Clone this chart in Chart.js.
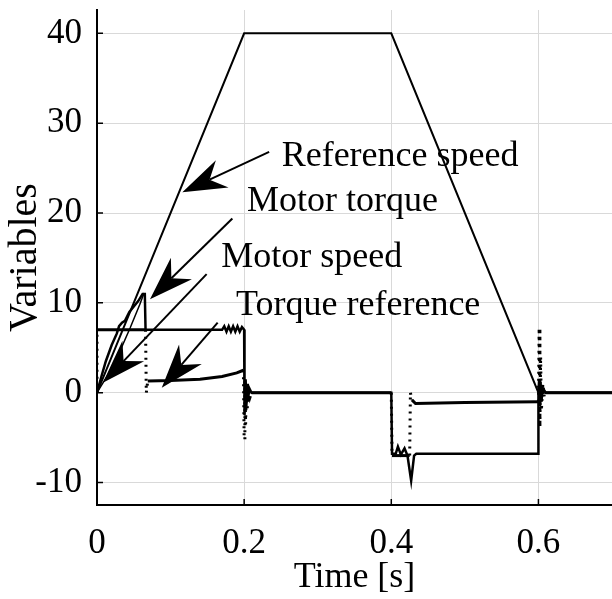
<!DOCTYPE html>
<html>
<head>
<meta charset="utf-8">
<script src="https://cdn.jsdelivr.net/npm/chart.js@4.4.1/dist/chart.umd.min.js"></script>
<style>
  html, body { margin: 0; background: #fff; }
  #wrap { width: 612px; height: 599px; }
</style>
</head>
<body>
<div id="wrap"><canvas id="chart"></canvas></div>
<script>
// axis ticks
const xTicks = [0, 0.2, 0.4, 0.6];
const yTicks = [-10, 0, 10, 20, 30, 40];

// reference speed
const refT = [0, 0.2, 0.4, 0.6, 0.7];
const refV = [0, 40, 40, 0, 0];

// motor speed (smooth rise at start)
const speedT = [0, 0.015, 0.03, 0.045, 0.058, 0.064];
const speedV = [0, 2.0, 4.4, 7.2, 9.8, 11.1];

// motor torque (solid)
const torqueT = [0, 0.006, 0.012, 0.02, 0.027, 0.03, 0.034, 0.038, 0.044, 0.05, 0.056, 0.062, 0.065, 0.066,
  0.17, 0.173, 0.176, 0.179, 0.182, 0.185, 0.188, 0.191, 0.194, 0.197, 0.2, 0.2, 0.2005, 0.201, 0.202, 0.203,
  0.204, 0.205, 0.207, 0.21, 0.4, 0.401, 0.406, 0.409, 0.413, 0.418, 0.422, 0.427, 0.431, 0.434, 0.6, 0.6,
  0.601, 0.602, 0.603, 0.604, 0.606, 0.61, 0.7];
const torqueV = [0, 1.8, 3.5, 5.3, 6.6, 7.4, 7.8, 8.0, 9.0, 9.6, 10.2, 11, 11, 7,
  7, 7.4, 6.8, 7.4, 6.8, 7.4, 6.8, 7.4, 6.8, 7.3, 7, 0, 2, -2.5, 1.5, -1.5,
  1, -1, 0.5, 0, 0, -6.8, -6.8, -6, -6.9, -6.2, -7, -9.8, -7, -6.8, -6.8, 0,
  1.5, -1.5, 1, -1, 0.5, 0, 0];

// torque reference (sampled, steep jumps look dotted)
const trefT = [0, 0, 0.066, 0.067, 0.069, 0.1, 0.14, 0.17, 0.19, 0.199, 0.2, 0.201, 0.202, 0.203, 0.204,
  0.206, 0.208, 0.21, 0.4, 0.401, 0.425, 0.426, 0.428, 0.433, 0.5, 0.6, 0.601, 0.602, 0.603, 0.604,
  0.606, 0.608, 0.61, 0.7];
const trefV = [0, 7, 7, 0, 1.3, 1.35, 1.5, 1.8, 2.2, 2.5, -5.2, 1.5, -3.5, 1, -2,
  0.5, -0.5, 0, 0, -7, -7, 0, -0.8, -1.2, -1.1, -1.0, 7.2, -3.8, 4, -2,
  1, -0.5, 0, 0];

// annotation labels and arrows (tail -> tip), in data units
const noteText = ["Reference speed", "Motor torque", "Motor speed", "Torque reference"];
const noteT = [0.251, 0.204, 0.169, 0.189];
const noteV = [25.25, 20.2, 13.97, 8.7];
const arrowTail = [[0.234, 26.8], [0.184, 19.4], [0.149, 13.2], [0.164, 7.8]];
const arrowTip = [[0.116, 22.3], [0.072, 10.4], [0.008, 1.1], [0.088, 0.56]];

const serif = "'Liberation Serif', 'Times New Roman', serif";

function pts(t, v) {
  return t.map((x, i) => ({ x: x, y: v[i] }));
}

// steep segments of the sampled signal show as dots
function steepDash(ctx) {
  const dx = Math.abs(ctx.p1.x - ctx.p0.x);
  const dy = Math.abs(ctx.p1.y - ctx.p0.y);
  return dy > dx * 2 ? [2, 5] : undefined;
}

const overlay = {
  id: "overlay",
  afterDatasetsDraw(chart) {
    const { ctx, scales: { x, y }, chartArea: a } = chart;
    ctx.save();
    // inward tick marks
    ctx.strokeStyle = "#000";
    ctx.lineWidth = 1.5;
    ctx.beginPath();
    xTicks.forEach(v => {
      const px = x.getPixelForValue(v);
      ctx.moveTo(px, a.bottom);
      ctx.lineTo(px, a.bottom - 6);
    });
    yTicks.forEach(v => {
      const py = y.getPixelForValue(v);
      ctx.moveTo(a.left, py);
      ctx.lineTo(a.left + 6, py);
    });
    ctx.stroke();

    // arrows
    ctx.fillStyle = "#000";
    arrowTail.forEach((tail, i) => {
      const x0 = x.getPixelForValue(tail[0]), y0 = y.getPixelForValue(tail[1]);
      const x1 = x.getPixelForValue(arrowTip[i][0]), y1 = y.getPixelForValue(arrowTip[i][1]);
      const ang = Math.atan2(y1 - y0, x1 - x0);
      const len = 44, half = 15, notch = 30;
      ctx.lineWidth = 2;
      ctx.beginPath();
      ctx.moveTo(x0, y0);
      ctx.lineTo(x1 - Math.cos(ang) * notch, y1 - Math.sin(ang) * notch);
      ctx.stroke();
      ctx.save();
      ctx.translate(x1, y1);
      ctx.rotate(ang);
      ctx.beginPath();
      ctx.moveTo(0, 0);
      ctx.lineTo(-len, -half);
      ctx.lineTo(-notch, 0);
      ctx.lineTo(-len, half);
      ctx.closePath();
      ctx.fill();
      ctx.restore();
    });

    // labels
    ctx.font = "36px " + serif;
    ctx.textAlign = "left";
    ctx.textBaseline = "alphabetic";
    noteText.forEach((s, i) => {
      ctx.fillText(s, x.getPixelForValue(noteT[i]), y.getPixelForValue(noteV[i]));
    });
    ctx.restore();
  }
};

new Chart(document.getElementById("chart"), {
  type: "scatter",
  data: {
    datasets: [
      { data: pts(trefT, trefV), borderColor: "#000", borderWidth: 3,
        segment: { borderDash: steepDash } },
      { data: pts(speedT, speedV), borderColor: "#000", borderWidth: 1.5 },
      { data: pts(torqueT, torqueV), borderColor: "#000", borderWidth: 2.5 },
      { data: pts(refT, refV), borderColor: "#000", borderWidth: 2 }
    ]
  },
  options: {
    responsive: true,
    maintainAspectRatio: false,
    animation: false,
    devicePixelRatio: 1,
    showLine: true,
    elements: { point: { radius: 0 }, line: { tension: 0 } },
    layout: { padding: { top: 10, right: 0, left: 0, bottom: 0 } },
    plugins: { legend: { display: false }, tooltip: { enabled: false } },
    scales: {
      x: {
        type: "linear",
        min: 0,
        max: 0.7,
        afterBuildTicks: s => { s.ticks = xTicks.map(v => ({ value: v })); },
        afterFit: s => { s.height = 94; s.paddingLeft = 0; s.paddingRight = 0; },
        grid: { color: "#d9d9d9", lineWidth: 1, drawTicks: false },
        border: { color: "#000", width: 2 },
        ticks: {
          color: "#000",
          font: { family: serif, size: 35 },
          padding: 18,
          maxRotation: 0,
          callback: v => String(v)
        },
        title: {
          display: true,
          text: "Time [s]",
          color: "#000",
          font: { family: serif, size: 36 },
          padding: { top: 0, bottom: 0 }
        }
      },
      y: {
        type: "linear",
        min: -12.5,
        max: 42.6,
        afterBuildTicks: s => { s.ticks = yTicks.map(v => ({ value: v })); },
        afterFit: s => { s.width = 97; s.paddingTop = 0; s.paddingBottom = 0; },
        grid: { color: "#d9d9d9", lineWidth: 1, drawTicks: false },
        border: { color: "#000", width: 2 },
        ticks: {
          color: "#000",
          font: { family: serif, size: 35 },
          padding: 15,
          callback: v => String(v)
        },
        title: {
          display: true,
          text: "Variables",
          color: "#000",
          font: { family: serif, size: 40 },
          padding: { top: 1, bottom: 0 }
        }
      }
    }
  },
  plugins: [overlay]
});
</script>
</body>
</html>
